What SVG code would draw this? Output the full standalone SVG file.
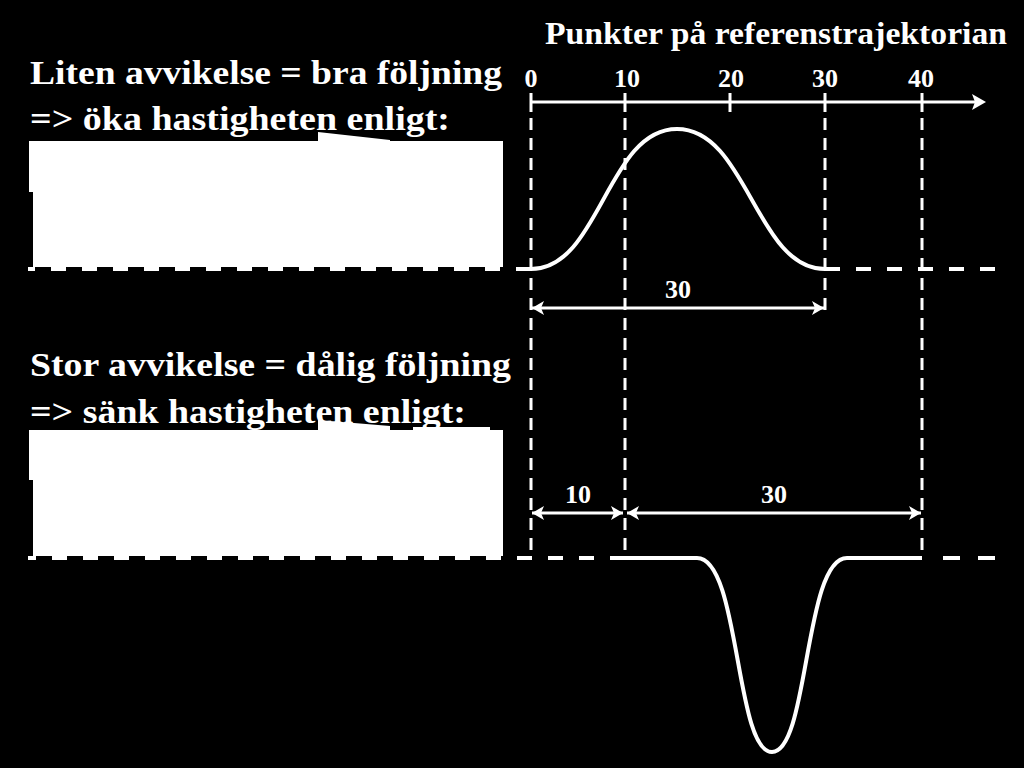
<svg xmlns="http://www.w3.org/2000/svg" width="1024" height="768" viewBox="0 0 1024 768">
<defs>
<style>
.t{font-family:"Liberation Serif","Times New Roman",serif;font-weight:bold;fill:#fff}
.big{font-size:34px}
.num{font-size:26px;text-anchor:middle}
.dv{stroke:#fff;stroke-width:3;fill:none;stroke-dasharray:12 8}
.dh{stroke:#fff;stroke-width:4;fill:none;stroke-dasharray:15 16}
.sol{stroke:#fff;stroke-width:3;fill:none}
.curve{stroke:#fff;stroke-width:4;fill:none}
.box{fill:#fff}
</style>
<marker id="ah" viewBox="0 0 12 14" refX="12" refY="7" markerWidth="12" markerHeight="14" orient="auto-start-reverse" markerUnits="userSpaceOnUse">
<path d="M0,0 L12,7 L0,14 L3,7 z" fill="#fff"/>
</marker>
</defs>
<rect width="1024" height="768" fill="#000"/>

<g id="title">
<text class="t" x="545" y="44" font-size="31" textLength="462" lengthAdjust="spacingAndGlyphs">Punkter på referenstrajektorian</text>
</g>

<g id="axis">
<line class="sol" x1="531" y1="102" x2="978" y2="102"/>
<path d="M972,94 L986,102 L972,110 L975,102 z" fill="#fff"/>
<line class="sol" x1="531" y1="93" x2="531" y2="112"/>
<line class="sol" x1="625" y1="93" x2="625" y2="112"/>
<line class="sol" x1="730" y1="93" x2="730" y2="112"/>
<line class="sol" x1="825" y1="93" x2="825" y2="112"/>
<line class="sol" x1="922" y1="93" x2="922" y2="112"/>
<text class="t num" x="531" y="87">0</text>
<text class="t num" x="627" y="87">10</text>
<text class="t num" x="731" y="87">20</text>
<text class="t num" x="825" y="87">30</text>
<text class="t num" x="921" y="87">40</text>
</g>

<g id="guides">
<line class="dv" x1="531" y1="118" x2="531" y2="558"/>
<line class="dv" x1="625" y1="118" x2="625" y2="558"/>
<line class="dv" x1="825" y1="118" x2="825" y2="316"/>
<line class="dv" x1="922" y1="118" x2="922" y2="558"/>
<path class="dh" d="M531,269 H28"/>
<path class="dh" d="M825,269 H1000"/>
<path class="dh" d="M625,558 H28"/>
<path class="dh" d="M943,558 H1000" style="stroke-dasharray:17 18"/>
</g>

<g id="curve-top">
<path class="curve" d="M517,269 H531 C600,269 607,129 677,129 C747,129 756,269 825,269 H840"/>
</g>

<g id="curve-bottom">
<path class="curve" d="M610,558 H697 C740,558 735,752 772,752 C809,752 804,558 847,558 H922"/>
</g>

<g id="dim-top">
<line class="sol" x1="532" y1="308" x2="824" y2="308" marker-start="url(#ah)" marker-end="url(#ah)"/>
<text class="t num" x="678" y="298">30</text>
</g>

<g id="dim-bottom">
<line class="sol" x1="532" y1="513" x2="623" y2="513" marker-start="url(#ah)" marker-end="url(#ah)"/>
<line class="sol" x1="627" y1="513" x2="921" y2="513" marker-start="url(#ah)" marker-end="url(#ah)"/>
<text class="t num" x="578" y="503">10</text>
<text class="t num" x="774" y="503">30</text>
</g>

<g id="text-top">
<text class="t big" x="30" y="84" textLength="472" lengthAdjust="spacingAndGlyphs">Liten avvikelse = bra följning</text>
<text class="t big" x="30" y="130" textLength="420" lengthAdjust="spacingAndGlyphs">=&gt; öka hastigheten enligt:</text>
</g>
<g id="box-top">
<path class="box" d="M29,141 H318 L318,132 L390,140 L390,141 H503 V267 H33 V192 H29 Z"/>
</g>

<g id="text-bottom">
<text class="t big" x="30" y="376" textLength="481" lengthAdjust="spacingAndGlyphs">Stor avvikelse = dålig följning</text>
<text class="t big" x="30" y="423" textLength="436" lengthAdjust="spacingAndGlyphs">=&gt; sänk hastigheten enligt:</text>
</g>
<g id="box-bottom">
<path class="box" d="M29,430 H318 L318,420 L390,426 L390,430 H413 V427 H490 V430 H503 V556 H33 V480 H29 Z"/>
</g>
</svg>
